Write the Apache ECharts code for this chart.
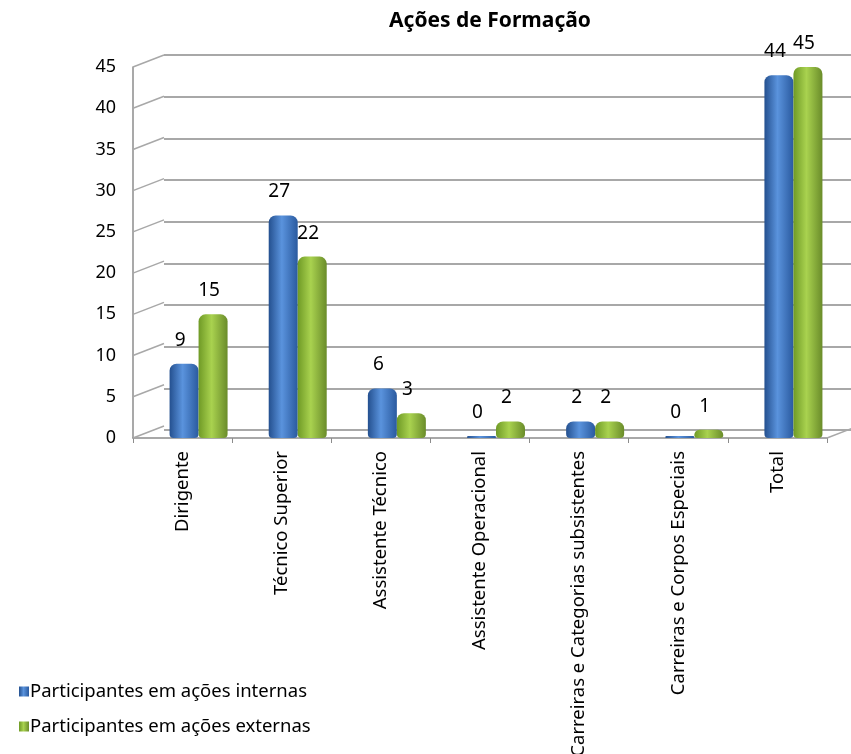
<!DOCTYPE html>
<html>
<head>
<meta charset="utf-8">
<script src="https://cdn.jsdelivr.net/npm/echarts@6/dist/echarts.min.js"></script>
<style>
  html, body { margin: 0; padding: 0; background: #fff; }
  #main { width: 851px; height: 754px; }
</style>
</head>
<body>
<div id="main"></div>
<script>
// dados do gráfico
var categorias = ['Dirigente', 'Técnico Superior', 'Assistente Técnico', 'Assistente Operacional',
  'Carreiras e Categorias subsistentes', 'Carreiras e Corpos Especiais', 'Total'];
var internas = [9, 27, 6, 0, 2, 0, 44];
var externas = [15, 22, 3, 2, 2, 1, 45];
var yTicks = [0, 5, 10, 15, 20, 25, 30, 35, 40, 45];
var nomeInternas = 'Participantes em ações internas';
var nomeExternas = 'Participantes em ações externas';

var fonte = 'Noto Sans';

function cilindro(esq, meio, dir) {
  return new echarts.graphic.LinearGradient(0, 0, 1, 0, [
    { offset: 0, color: esq },
    { offset: 0.45, color: meio },
    { offset: 1, color: dir }
  ]);
}

var legendaBase = {
  orient: 'vertical', left: 14,
  icon: 'rect', itemWidth: 10, itemHeight: 10,
  textStyle: { fontFamily: fonte, fontSize: 18.5, color: '#000', padding: [0, 0, 0, -4] }
};

var myChart = echarts.init(document.getElementById('main'));
myChart.setOption({
  animation: false,
  textStyle: { fontFamily: fonte },
  title: {
    text: 'Ações de Formação',
    left: 485, top: 6, textAlign: 'center',
    textStyle: { fontFamily: fonte, fontSize: 21, fontWeight: 'bold', color: '#000' }
  },
  legend: [
    Object.assign({ top: 677, data: [nomeInternas] }, legendaBase),
    Object.assign({ top: 712, data: [nomeExternas] }, legendaBase)
  ],
  grid: [
    // frente (eixos)
    { left: 133, right: 24, top: 67, bottom: 316, outerBoundsMode: 'none' },
    // parede do fundo
    { left: 164, right: 0, top: 55, bottom: 324, outerBoundsMode: 'none' },
    // barras (deslocadas pela profundidade)
    { left: 149, right: 8, top: 67, bottom: 316, outerBoundsMode: 'none' }
  ],
  xAxis: [
    {
      gridIndex: 0, type: 'category', data: categorias,
      axisLine: { lineStyle: { color: '#8c8c8c', width: 1.5 } },
      axisTick: { show: true, length: 5, lineStyle: { color: '#8c8c8c' } },
      axisLabel: { rotate: 90, fontSize: 18.5, color: '#000', margin: 13, fontFamily: fonte }
    },
    { gridIndex: 1, type: 'category', data: categorias, show: false },
    { gridIndex: 2, type: 'category', data: categorias, show: false }
  ],
  yAxis: [
    {
      gridIndex: 0, type: 'value', min: 0, max: 45, interval: 5,
      axisLine: { show: true, lineStyle: { color: '#8c8c8c', width: 1.5 } },
      axisTick: { show: false },
      splitLine: { show: false },
      axisLabel: { fontSize: 18, color: '#000', margin: 17, fontFamily: fonte }
    },
    {
      gridIndex: 1, type: 'value', min: 0, max: 45, interval: 5,
      axisLine: { show: false }, axisTick: { show: false }, axisLabel: { show: false },
      splitLine: { show: true, lineStyle: { color: '#a8a8a8', width: 2 } }
    },
    { gridIndex: 2, type: 'value', min: 0, max: 45, interval: 5, show: false, splitLine: { show: false } }
  ],
  series: [
    {
      // linhas diagonais da parede lateral
      type: 'custom', xAxisIndex: 0, yAxisIndex: 0, silent: true,
      data: yTicks.map(function (v) { return [0, v]; }),
      encode: { x: 0, y: 1 },
      renderItem: function (params, api) {
        var cs = params.coordSys;
        var y = api.coord([0, api.value(1)])[1];
        var itens = [{
          type: 'line',
          shape: { x1: cs.x, y1: y, x2: cs.x + 31, y2: y - 12 },
          style: { stroke: '#a8a8a8', lineWidth: 1.5 }
        }];
        if (params.dataIndex === 0) {
          itens.push({
            type: 'line',
            shape: { x1: cs.x + cs.width, y1: y, x2: cs.x + cs.width + 26, y2: y - 10 },
            style: { stroke: '#a8a8a8', lineWidth: 1.5 }
          });
        }
        return { type: 'group', children: itens };
      }
    },
    {
      name: nomeInternas, type: 'bar', xAxisIndex: 2, yAxisIndex: 2,
      data: internas, barWidth: 29, barGap: '0%', barMinHeight: 2,
      itemStyle: { color: cilindro('#24508f', '#5a93dd', '#2a5a9f'), borderRadius: [7, 7, 4, 4] },
      label: { show: true, position: 'top', distance: 14, fontSize: 19, color: '#000', fontFamily: fonte, offset: [-4, 0] }
    },
    {
      name: nomeExternas, type: 'bar', xAxisIndex: 2, yAxisIndex: 2,
      data: externas, barWidth: 29,
      itemStyle: { color: cilindro('#6f9a26', '#a9d24f', '#6a8c2a'), borderRadius: [7, 7, 4, 4] },
      label: { show: true, position: 'top', distance: 14, fontSize: 19, color: '#000', fontFamily: fonte, offset: [-4, 0] }
    }
  ]
});
</script>
</body>
</html>
